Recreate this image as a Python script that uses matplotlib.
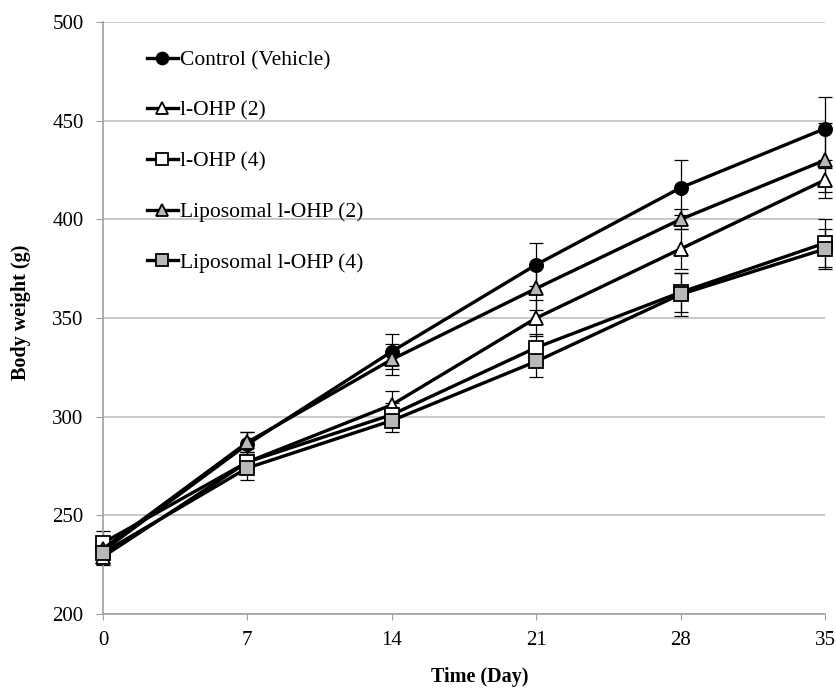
import matplotlib.pyplot as plt

plt.rcParams['font.family'] = ['Liberation Serif', 'DejaVu Serif']

days = [0, 7, 14, 21, 28, 35]

control = [232, 286, 333, 377, 416, 446]
control_sd = [4, 6, 9, 11, 14, 16]
ohp2 = [229, 277, 306, 350, 385, 420]
ohp2_sd = [4, 5, 7, 9, 10, 6]
ohp4 = [236, 277, 301, 335, 363, 388]
ohp4_sd = [6, 5, 6, 7, 10, 12]
lipo2 = [233, 287, 329, 365, 400, 430]
lipo2_sd = [4, 5, 8, 11, 5, 19]
lipo4 = [231, 274, 298, 328, 362, 385]
lipo4_sd = [5, 6, 6, 8, 11, 10]

series = [
    ('Control (Vehicle)', control, control_sd, 'o', 'black'),
    ('l-OHP (2)', ohp2, ohp2_sd, '^', 'white'),
    ('l-OHP (4)', ohp4, ohp4_sd, 's', 'white'),
    ('Liposomal l-OHP (2)', lipo2, lipo2_sd, '^', '#b8b8b8'),
    ('Liposomal l-OHP (4)', lipo4, lipo4_sd, 's', '#b8b8b8'),
]

fig = plt.figure(figsize=(8.37, 6.88), dpi=100)
ax = fig.add_axes([0.123, 0.1076, 0.8627, 0.8604])

# error bars first, thin and behind the markers
for name, vals, sd, mk, fc in series:
    eb = ax.errorbar(days, vals, yerr=sd, fmt='none', ecolor='black',
                     elinewidth=0.9, capsize=5, capthick=0.9, zorder=2)
    for art in eb.lines[1] + eb.lines[2]:
        art.set_clip_on(False)

for name, vals, sd, mk, fc in series:
    ax.plot(days, vals, color='black', linewidth=2.4, marker=mk,
            markersize=10 if mk != 'o' else 9.5, markerfacecolor=fc,
            markeredgecolor='black', markeredgewidth=1.3, label=name,
            zorder=3, clip_on=False)

ax.set_xlim(0, 35)
ax.set_ylim(200, 500)
ax.set_xticks(days)
ax.set_yticks(range(200, 501, 50))
ax.yaxis.grid(True, color='#c0c0c0', linewidth=1.2)
ax.set_axisbelow(True)
for s in ['top', 'right']:
    ax.spines[s].set_visible(False)
for s in ['left', 'bottom']:
    ax.spines[s].set_color('#a0a0a0')
    ax.spines[s].set_linewidth(1.2)
ax.tick_params(axis='both', labelsize=15, color='#a0a0a0')
ax.tick_params(axis='y', length=5, pad=9)
ax.tick_params(axis='x', length=4, pad=8)

ax.set_xlabel('Time (Day)', fontsize=14.5, fontweight='bold')
ax.set_ylabel('Body weight (g)', fontsize=14.5, fontweight='bold')
ax.xaxis.set_label_coords(0.522, -0.09)
ax.yaxis.set_label_coords(-0.099, 0.51)

ax.legend(loc='upper left', bbox_to_anchor=(0.034, 0.985), frameon=False,
          fontsize=15.5, handlelength=1.45, handletextpad=0.08,
          labelspacing=1.42, markerscale=0.9)

fig.savefig('out.png', dpi=100)
